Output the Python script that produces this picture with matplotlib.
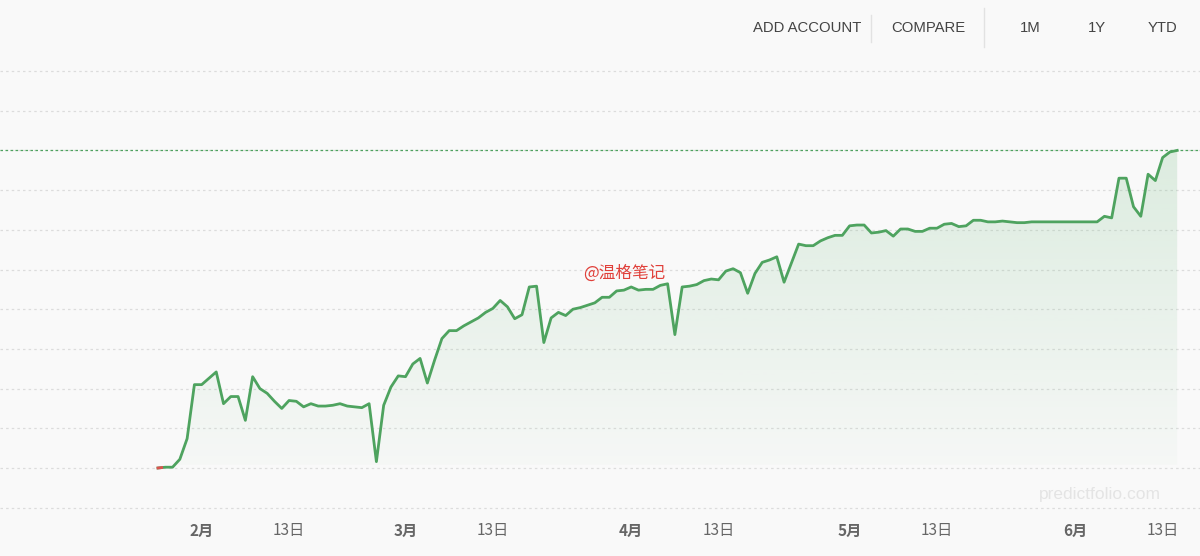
import numpy as np
import pandas as pd
import matplotlib
matplotlib.use("Agg")
import matplotlib.pyplot as plt
import matplotlib.dates as mdates
from matplotlib.patches import Polygon
from matplotlib.lines import Line2D

# -------------------------
# Data (cumulative return, daily)
# -------------------------
start_date = "2023-01-26"
values = [
    0.0, 0.1, 0.1, 1.1, 3.7, 10.5, 10.5, 11.3, 12.1, 8.1,
    9.0, 9.0, 6.0, 11.5, 10.0, 9.4, 8.4, 7.5, 8.5, 8.4,
    7.7, 8.1, 7.8, 7.8, 7.9, 8.1, 7.8, 7.7, 7.6, 8.1,
    0.8, 7.9, 10.2, 11.6, 11.5, 13.1, 13.8, 10.7, 13.6, 16.3,
    17.3, 17.3, 17.9, 18.4, 18.9, 19.6, 20.1, 21.1, 20.3, 18.8,
    19.3, 22.8, 22.9, 15.8, 18.9, 19.6, 19.2, 20.0, 20.2, 20.5,
    20.8, 21.5, 21.5, 22.3, 22.4, 22.8, 22.4, 22.5, 22.5, 23.0,
    23.2, 16.8, 22.8, 22.9, 23.1, 23.6, 23.8, 23.7, 24.8, 25.1,
    24.6, 22.0, 24.5, 25.9, 26.2, 26.6, 23.4, 25.8, 28.2, 28.0,
    28.0, 28.6, 29.0, 29.3, 29.3, 30.5, 30.6, 30.6, 29.6, 29.7,
    29.9, 29.2, 30.1, 30.1, 29.8, 29.8, 30.2, 30.2, 30.7, 30.8,
    30.4, 30.5, 31.2, 31.2, 31.0, 31.0, 31.1, 31.0, 30.9, 30.9,
    31.0, 31.0, 31.0, 31.0, 31.0, 31.0, 31.0, 31.0, 31.0, 31.0,
    31.7, 31.5, 36.5, 36.5, 32.9, 31.7, 37.0, 36.2, 39.1, 39.8,
    40.0,
]
tick_dates = ["2023-02-01", "2023-02-13", "2023-03-01", "2023-03-13",
              "2023-04-01", "2023-04-13", "2023-05-01", "2023-05-13",
              "2023-06-01", "2023-06-13"]
tick_labels = ["2月", "13日", "3月", "13日", "4月", "13日", "5月", "13日", "6月", "13日"]
tick_bold = [True, False, True, False, True, False, True, False, True, False]
menu_items = ["ADD ACCOUNT", "COMPARE", "1M", "1Y", "YTD"]
watermark = "@温格笔记"
site = "predictfolio.com"

dates = pd.date_range(start_date, periods=len(values), freq="D")
x = mdates.date2num(dates.to_pydatetime())
y = np.array(values)

BG = "#f9f9f9"
GREEN = "#4ea35f"
CJK = ["Noto Sans CJK SC", "DejaVu Sans"]

fig = plt.figure(figsize=(12, 5.56), dpi=100, facecolor=BG)
ax = fig.add_axes([0, 0, 1, 1], facecolor=BG)

# pixel layout: day 0 at x=158px, 7.28 px per day; value 0 at y=468px, 5 units per 39.7px
px_day = 7.28
x0 = x[0]
ax.set_xlim(x0 - 158 / px_day, x0 + (1200 - 158) / px_day)
ppu = 39.7 / 5
ax.set_ylim(-(556 - 468) / ppu, 468 / ppu)
ymin, ymax = ax.get_ylim()
base = 0.4  # fill stops just above the zero line

# grid lines
for g in np.arange(-5, 55, 5):
    ax.axhline(g, color="#dcdcdc", lw=0.9, ls=(0, (2, 2.5)), zorder=1)
ax.axhline(y.max(), color=GREEN, lw=0.9, ls=(0, (2, 2)), zorder=2)

# gradient fill under line
grad = np.linspace(0, 1, 256).reshape(-1, 1)
rgba = np.zeros((256, 1, 4))
rgba[..., :3] = matplotlib.colors.to_rgb("#7cc08a")
rgba[..., 3] = 0.03 + 0.20 * grad[::-1]
img = ax.imshow(rgba, extent=[x[0], x[-1], base, y.max()], aspect="auto",
                origin="upper", zorder=2)
ax.set_xlim(x0 - 158 / px_day, x0 + (1200 - 158) / px_day)
ax.set_ylim(ymin, ymax)
poly = Polygon(np.column_stack([np.r_[x[0], x, x[-1]], np.r_[base, np.maximum(y, base), base]]),
               closed=True, facecolor="none", edgecolor="none")
ax.add_patch(poly)
img.set_clip_path(poly)

ax.plot(x, y, color=GREEN, lw=2, zorder=4, solid_joinstyle="round")
ax.plot([x[0], (x[0] + x[1]) / 2], [y[0], (y[0] + y[1]) / 2], color="#d9534f", lw=2, zorder=5)

for s in ax.spines.values():
    s.set_visible(False)
ax.set_xticks([])
ax.set_yticks([])

# x tick labels
trans = ax.get_xaxis_transform()
for d, lab, b in zip(tick_dates, tick_labels, tick_bold):
    xd = mdates.date2num(pd.Timestamp(d).to_pydatetime())
    ax.text(xd, 1 - 531 / 556, lab, transform=trans, ha="center", va="center",
            fontsize=11, color="#666666", family=CJK,
            fontweight="bold" if b else "normal")

# watermarks
ax.text(mdates.date2num(pd.Timestamp("2023-03-31").to_pydatetime()), 1 - 273 / 556,
        watermark, transform=trans, ha="center", va="center",
        fontsize=12, color="#e0403a", family=CJK)
fig.text(1100 / 1200, 1 - 494 / 556, site, ha="center", va="center",
         fontsize=12.5, color="#e4e4e4", family="Liberation Sans")

# top menu
menu_x = [807, 928, 1030, 1097, 1163]
for mx, item in zip(menu_x, menu_items):
    fig.text(mx / 1200, 1 - 28 / 556, item, ha="center", va="center",
             fontsize=10.7, color="#444444", family="Liberation Sans")
for sx, y_top, y_bot in [(871, 15, 42), (984, 8, 47)]:
    fig.add_artist(Line2D([sx / 1200, sx / 1200], [1 - y_top / 556, 1 - y_bot / 556],
                          transform=fig.transFigure, color="#e2e2e2", lw=1))

fig.savefig("out.png", dpi=100, facecolor=BG)
